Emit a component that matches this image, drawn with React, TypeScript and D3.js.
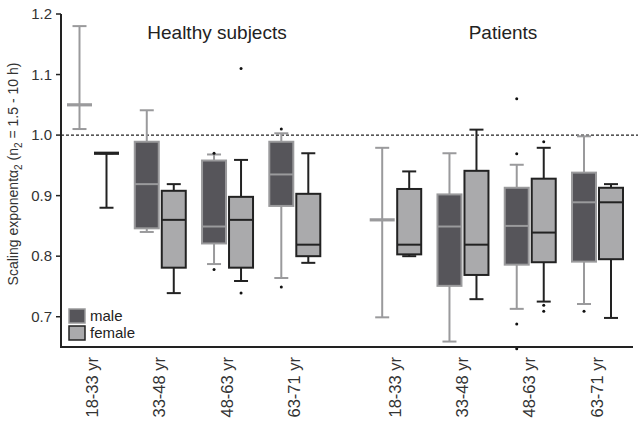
import React from "react";
import * as d3 from "d3";

// ---- data ----
const groups = ["Healthy subjects", "Patients"];
const ageLabels = ["18-33 yr", "33-48 yr", "48-63 yr", "63-71 yr", "18-33 yr", "33-48 yr", "48-63 yr", "63-71 yr"];
const slotPos = [0, 1, 2, 3, 4.5, 5.5, 6.5, 7.5];
const yTicks = [0.7, 0.8, 0.9, 1.0, 1.1, 1.2];

// whiskerLow, q1, median, q3, whiskerHigh ; null q1/q3 => no box
type Stat = { lo: number; q1: number | null; med: number; q3: number | null; hi: number; out: number[] };
const maleStats: Stat[] = [
  { lo: 1.01, q1: null, med: 1.05, q3: null, hi: 1.18, out: [] },
  { lo: 0.84, q1: 0.846, med: 0.919, q3: 0.989, hi: 1.041, out: [] },
  { lo: 0.787, q1: 0.821, med: 0.849, q3: 0.958, hi: 0.968, out: [0.97, 0.778] },
  { lo: 0.764, q1: 0.883, med: 0.935, q3: 0.989, hi: 1.003, out: [1.01, 0.749] },
  { lo: 0.699, q1: null, med: 0.86, q3: null, hi: 0.979, out: [] },
  { lo: 0.659, q1: 0.751, med: 0.849, q3: 0.902, hi: 0.97, out: [] },
  { lo: 0.713, q1: 0.786, med: 0.85, q3: 0.913, hi: 0.951, out: [1.06, 0.969, 0.688, 0.647] },
  { lo: 0.721, q1: 0.791, med: 0.889, q3: 0.938, hi: 0.998, out: [0.709] },
];
const femaleStats: Stat[] = [
  { lo: 0.88, q1: null, med: 0.97, q3: null, hi: 0.97, out: [] },
  { lo: 0.739, q1: 0.781, med: 0.86, q3: 0.908, hi: 0.919, out: [] },
  { lo: 0.759, q1: 0.781, med: 0.86, q3: 0.898, hi: 0.959, out: [1.11, 0.739] },
  { lo: 0.789, q1: 0.8, med: 0.819, q3: 0.903, hi: 0.97, out: [] },
  { lo: 0.8, q1: 0.803, med: 0.819, q3: 0.911, hi: 0.94, out: [] },
  { lo: 0.729, q1: 0.769, med: 0.819, q3: 0.941, hi: 1.009, out: [] },
  { lo: 0.725, q1: 0.79, med: 0.839, q3: 0.928, hi: 0.979, out: [0.989, 0.719, 0.709] },
  { lo: 0.698, q1: 0.795, med: 0.889, q3: 0.913, hi: 0.919, out: [] },
];
const seriesNames = ["male", "female"];

const FONT = "'Liberation Sans', Arial, sans-serif";
const MALE_FILL = "#56555a";
const MALE_STROKE = "#9a9a9c";
const FEMALE_FILL = "#aaaaac";
const FEMALE_STROKE = "#222222";

export default function App() {
  const W = 642, H = 426;
  const axisX = 61, axisY = 347, axisTop = 14, axisRight = 633;
  const y = d3.scaleLinear().domain([0.65, 1.2]).range([axisY, axisTop]);
  const x = d3.scaleLinear().domain([0, 7.5]).range([93, 597.5]);
  const boxW = 24, off = 13.5, capW = 14;

  const drawBox = (s: Stat, cx: number, fill: string, stroke: string, key: string) => {
    const els: React.ReactNode[] = [];
    const hasBox = s.q1 !== null && s.q3 !== null;
    const topEdge = hasBox ? y(s.q3 as number) : y(s.med);
    const botEdge = hasBox ? y(s.q1 as number) : y(s.med);
    if (y(s.hi) < topEdge)
      els.push(<line key="wh" x1={cx} x2={cx} y1={y(s.hi)} y2={topEdge} stroke={stroke} strokeWidth={2} />);
    if (y(s.lo) > botEdge)
      els.push(<line key="wl" x1={cx} x2={cx} y1={botEdge} y2={y(s.lo)} stroke={stroke} strokeWidth={2} />);
    els.push(<line key="ch" x1={cx - capW / 2} x2={cx + capW / 2} y1={y(s.hi)} y2={y(s.hi)} stroke={stroke} strokeWidth={2} />);
    els.push(<line key="cl" x1={cx - capW / 2} x2={cx + capW / 2} y1={y(s.lo)} y2={y(s.lo)} stroke={stroke} strokeWidth={2} />);
    if (hasBox) {
      els.push(
        <rect key="b" x={cx - boxW / 2} y={y(s.q3 as number)} width={boxW}
          height={y(s.q1 as number) - y(s.q3 as number)} fill={fill} stroke={stroke} strokeWidth={2} />
      );
      els.push(<line key="m" x1={cx - boxW / 2} x2={cx + boxW / 2} y1={y(s.med)} y2={y(s.med)} stroke={stroke} strokeWidth={2} />);
    } else {
      els.push(<line key="m" x1={cx - boxW / 2 - 0.5} x2={cx + boxW / 2 + 0.5} y1={y(s.med)} y2={y(s.med)} stroke={stroke} strokeWidth={3.2} />);
    }
    s.out.forEach((o, i) => els.push(<circle key={"o" + i} cx={cx} cy={y(o)} r={1.5} fill="#111" />));
    return <g key={key}>{els}</g>;
  };

  return (
    <svg width={W} height={H} style={{ position: "absolute", left: 0, top: 0, background: "#fff" }} fontFamily={FONT}>
      <rect width={W} height={H} fill="#fff" />
      <line x1={axisX} x2={638} y1={y(1.0)} y2={y(1.0)} stroke="#222" strokeWidth={1.3} strokeDasharray="3,2" />

      {slotPos.map((p, i) => (
        <g key={i}>
          {drawBox(maleStats[i], x(p) - off, MALE_FILL, MALE_STROKE, "m" + i)}
          {drawBox(femaleStats[i], x(p) + off, FEMALE_FILL, FEMALE_STROKE, "f" + i)}
        </g>
      ))}

      <line x1={axisX} x2={axisX} y1={axisTop} y2={axisY} stroke="#222" strokeWidth={2} />
      <line x1={axisX - 1} x2={axisRight} y1={axisY} y2={axisY} stroke="#222" strokeWidth={2} />
      {yTicks.map((t) => (
        <g key={t}>
          <line x1={axisX - 5} x2={axisX} y1={y(t)} y2={y(t)} stroke="#222" strokeWidth={1.5} />
          <text x={52} y={y(t)} dy="0.35em" textAnchor="end" fontSize={15} fill="#333">
            {d3.format(".1f")(t)}
          </text>
        </g>
      ))}

      {slotPos.map((p, i) => (
        <text key={i} transform={`translate(${x(p) + 5},357) rotate(-90)`} textAnchor="end" fontSize={16.5} fill="#333">
          {ageLabels[i]}
        </text>
      ))}

      <text x={217} y={39} textAnchor="middle" fontSize={19} fill="#222">{groups[0]}</text>
      <text x={503} y={39} textAnchor="middle" fontSize={19} fill="#222">{groups[1]}</text>

      <text transform={`translate(18,174) rotate(-90)`} textAnchor="middle" fontSize={14} fill="#333">
        Scaling exponent{"\u03B1"}<tspan fontSize={10} dy={4}>2</tspan>
        <tspan dy={-4}> (n</tspan><tspan fontSize={10} dy={4}>2</tspan>
        <tspan dy={-4}> = 1.5 - 10 h)</tspan>
      </text>

      <rect x={69} y={309} width={16} height={14} fill={MALE_FILL} stroke={MALE_STROKE} strokeWidth={1.5} />
      <text x={90} y={316} dy="0.35em" fontSize={15} fill="#222">{seriesNames[0]}</text>
      <rect x={69} y={326} width={16} height={14} fill={FEMALE_FILL} stroke={FEMALE_STROKE} strokeWidth={1.5} />
      <text x={90} y={333} dy="0.35em" fontSize={15} fill="#222">{seriesNames[1]}</text>
    </svg>
  );
}
